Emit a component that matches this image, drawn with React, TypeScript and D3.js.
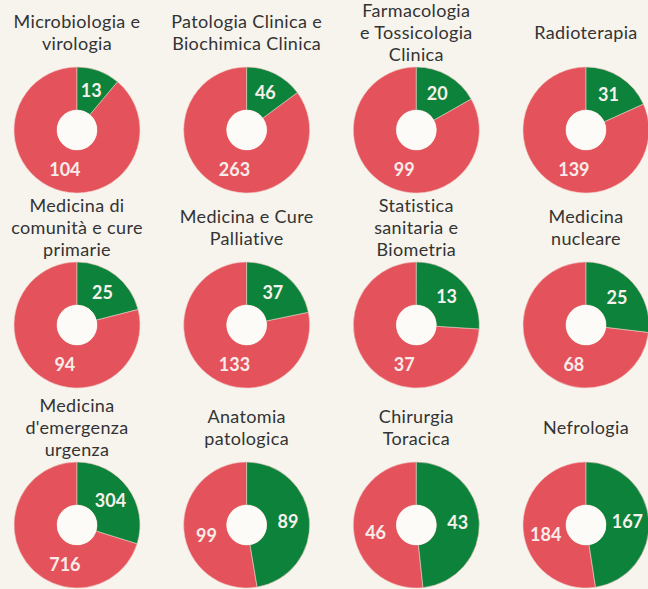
import React from "react";
import * as d3 from "d3";

const categories: string[][] = [
  ["Microbiologia e", "virologia"],
  ["Patologia Clinica e", "Biochimica Clinica"],
  ["Farmacologia", "e Tossicologia", "Clinica"],
  ["Radioterapia"],
  ["Medicina di", "comunità e cure", "primarie"],
  ["Medicina e Cure", "Palliative"],
  ["Statistica", "sanitaria e", "Biometria"],
  ["Medicina", "nucleare"],
  ["Medicina", "d'emergenza", "urgenza"],
  ["Anatomia", "patologica"],
  ["Chirurgia", "Toracica"],
  ["Nefrologia"],
];

const greenValues = [13, 46, 20, 31, 25, 37, 13, 25, 304, 89, 43, 167];
const redValues = [104, 263, 99, 139, 94, 133, 37, 68, 716, 99, 46, 184];

const W = 648;
const H = 589;
const GREEN = "#0d823b";
const RED = "#e4535b";
const BG = "#f7f4ee";
const HOLE = "#fdfbf7";
const TEXT = "#333333";

const colX = d3.scalePoint<number>().domain([0, 1, 2, 3]).range([77, 586]);
const rowY = d3.scaleOrdinal<number, number>().domain([0, 1, 2]).range([130, 325, 525]);

const R_OUT = 63;
const R_IN = 20;

const arc = d3.arc<d3.PieArcDatum<number>>().innerRadius(R_IN).outerRadius(R_OUT);
const pie = d3.pie<number>().sort(null).value((d) => d);

export default function App() {
  const font = "Lato, 'Open Sans', sans-serif";
  return (
    <svg
      width={W}
      height={H}
      style={{ position: "absolute", left: 0, top: 0, display: "block" }}
      fontFamily={font}
    >
      <rect x={0} y={0} width={W} height={H} fill={BG} />
      {categories.map((lines, i) => {
        const cx = colX(i % 4)!;
        const cy = rowY(Math.floor(i / 4));
        const arcs = pie([greenValues[i], redValues[i]]);
        const g = arcs[0];
        const r = arcs[1];
        const gC = arc.centroid(g);
        const redMid = (r.startAngle + r.endAngle) / 2;
        const redAng = Math.max((197 * Math.PI) / 180, Math.min(redMid, g.endAngle + (85 * Math.PI) / 180));
        const rr = (R_IN + R_OUT) / 2;
        const rC = [Math.sin(redAng) * rr, -Math.cos(redAng) * rr];
        const n = lines.length;
        const titleCenter = cy - 91;
        return (
          <g key={i}>
            {lines.map((ln, j) => (
              <text
                key={j}
                x={cx}
                y={titleCenter + (j - (n - 1) / 2) * 21.6}
                textAnchor="middle"
                fontSize={18}
                letterSpacing={0.35}
                fill={TEXT}
              >
                {ln}
              </text>
            ))}
            <g transform={`translate(${cx},${cy})`}>
              <path d={arc(r) || ""} fill={RED} stroke="#f1c9c4" strokeWidth={0.6} />
              <path d={arc(g) || ""} fill={GREEN} stroke="#f1c9c4" strokeWidth={0.6} />
              <circle r={R_IN} fill={HOLE} />
              <text
                x={gC[0]}
                y={gC[1]}
                dy="0.35em"
                textAnchor="middle"
                fontSize={18}
                fontWeight={700}
                fill="#f6f1ea"
              >
                {greenValues[i]}
              </text>
              <text
                x={rC[0]}
                y={rC[1]}
                dy="0.35em"
                textAnchor="middle"
                fontSize={18}
                fontWeight={700}
                fill="#f8ecea"
              >
                {redValues[i]}
              </text>
            </g>
          </g>
        );
      })}
    </svg>
  );
}
